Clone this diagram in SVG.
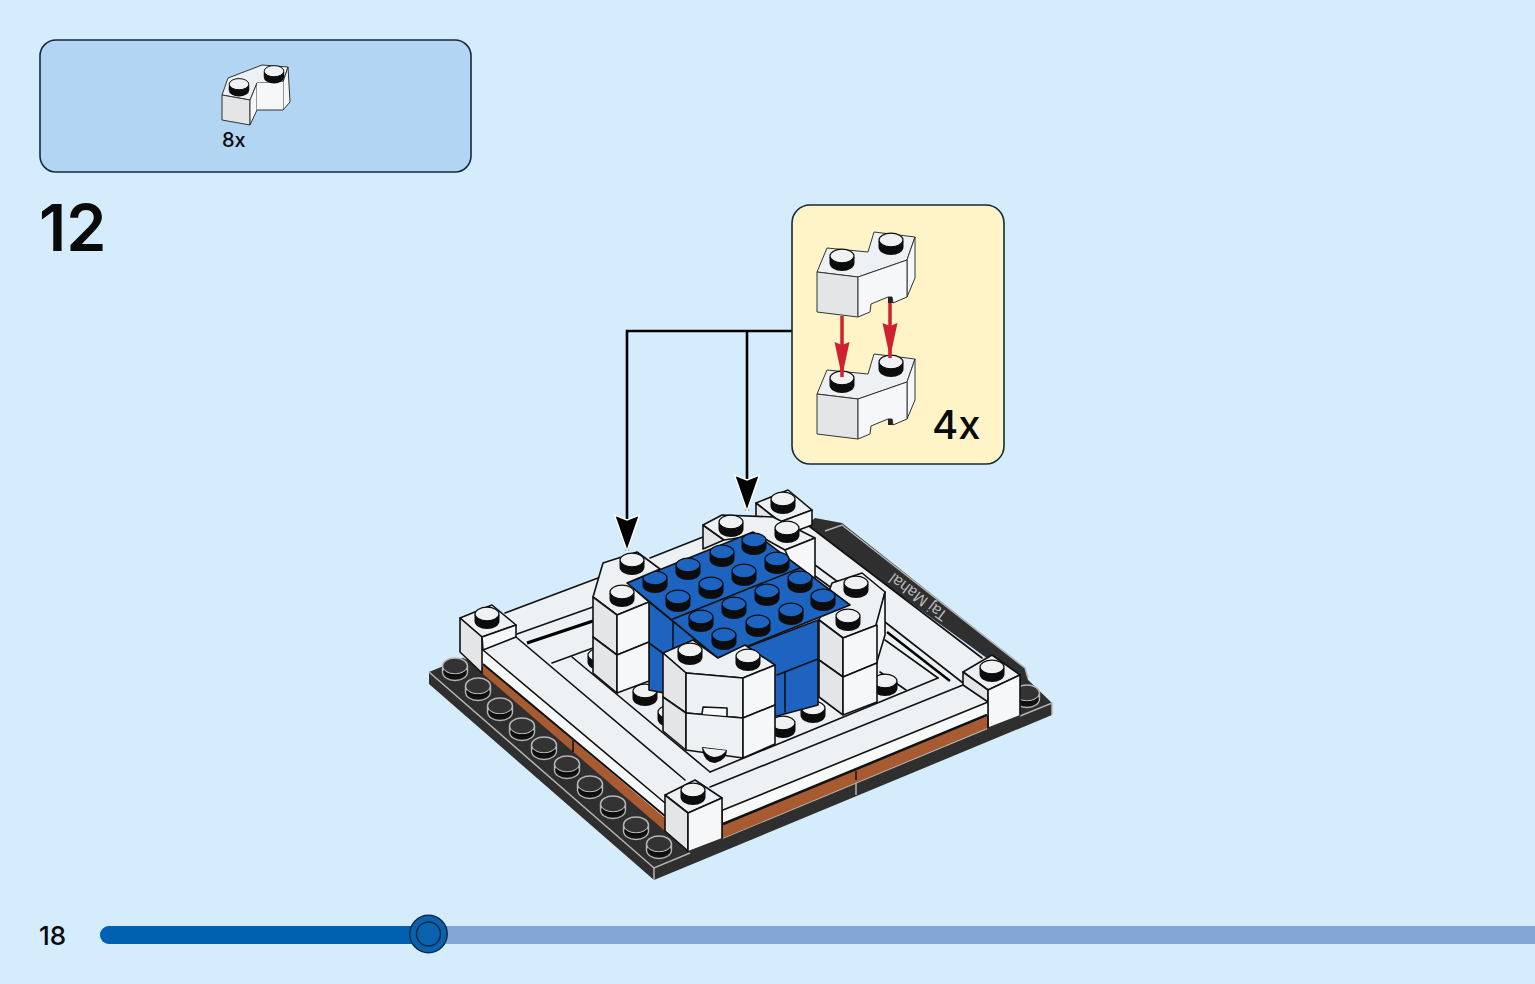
<svg xmlns="http://www.w3.org/2000/svg" width="1535" height="984" viewBox="0 0 1535 984">
<style>
.t{font-family:"Inter","Noto Sans","Liberation Sans",sans-serif;fill:#0a0a0a}
.ln{fill:none;stroke:#111;stroke-width:1.6;stroke-linecap:round;stroke-linejoin:round}
.gy{fill:none;stroke:#b5b5b5;stroke-width:1.5}
.f{stroke:#111;stroke-width:1.6;stroke-linejoin:round}
.thin{stroke:#333;stroke-width:1;stroke-linejoin:round}
.top{fill:#eef1f3}.lf{fill:#e3e5e7}.rt{fill:#f5f7f8}.wh{fill:#f8fafa}
.bl{fill:#1d63c0}.bd{fill:#1e63bf}
.br{fill:#a85a30}
</style>
<defs>
<g id="stud"><path d="M-12.5,0V6A12.5,8 0 0 0 12.5,6V0Z" fill="#0c0c0c"/><ellipse cy="-1" rx="12" ry="6.800" fill="#eff1f2" stroke="#0c0c0c" stroke-width="1.200"/></g>
<g id="bstud"><path d="M-12.5,0V6A12.5,8 0 0 0 12.5,6V0Z" fill="#0c0c0c"/><ellipse cy="-1" rx="12" ry="6.800" fill="#1d63c0" stroke="#0c0c0c" stroke-width="1.200"/></g>
<g id="dstud"><path d="M-12.5,-2V3A12.5,8.5 0 0 0 12.5,3V-2Z" fill="#111" stroke="#b5b5b5" stroke-width="1.400"/><ellipse cy="-3" rx="12.500" ry="8" fill="#333" stroke="#b5b5b5" stroke-width="1.400"/><path d="M-11,1A12,7 0 0 0 11,1L11,3A12,7 0 0 1 -11,3Z" fill="#0a0a0a"/></g>
<marker id="ah" markerUnits="userSpaceOnUse" markerWidth="42" markerHeight="32" viewBox="0 0 42 32" refX="37" refY="16" orient="auto"><path d="M37,16L1,3.500L6,16L1,28.500Z" fill="#000" stroke="#fff" stroke-width="1.400"/></marker>
<marker id="rh" markerUnits="userSpaceOnUse" markerWidth="38" markerHeight="20" viewBox="0 0 38 20" refX="36" refY="10" orient="auto"><path d="M36,10L1,2.500L4,10L1,17.500Z" fill="#cf2231"/></marker>
<g id="brick">
<polygon class="top thin" points="817,272 827,248 868,252 874,232 915,237 907,260 858,277"/>
<polygon class="rt thin" points="907,260 915,237 915,278 907,297"/>
<polygon class="lf thin" points="817,272 858,277 858,317 817,312"/>
<polygon class="rt thin" points="858,277 907,260 907,297 893,303 892,297 888,297 871,304 870,312 858,317"/>
<polygon points="888,297 892,297 893,303 888,303" fill="#222"/>
<use href="#stud" x="842" y="257"/><use href="#stud" x="891" y="241"/>
</g>
</defs>
<rect width="1535" height="984" fill="#d4ecfc"/>

<g id="parts-box">
<rect x="40" y="40" width="431" height="132" rx="16" fill="#b1d5f3" stroke="#16283a" stroke-width="1.600"/>
<g id="part-icon">
<polygon class="top thin" points="222,95 228,78 262,65 288,67 283,82 257,83 250,100"/>
<polygon class="rt thin" points="283,82 288,67 290,102 283,110"/>
<polygon class="lf thin" points="222,95 250,100 250,125 222,120"/>
<polygon class="rt thin" points="250,100 257,83 257,110 250,125"/>
<polygon class="rt" points="257,83 283,82 283,110 257,110"/>
<polyline class="thin" fill="none" points="257,110 283,110"/>
<use href="#stud" transform="translate(239,85) scale(.82)"/><use href="#stud" transform="translate(274,72) scale(.82)"/>
</g>
<text class="t" x="222" y="147" font-size="20" font-weight="500">8x</text>
</g>
<text id="step-number" class="t" x="39" y="251" font-size="64.500" font-weight="600">12</text>

<g id="model">
<g id="baseplate">
<polygon points="842,523 1025,668 1028,680 1010,675 805,526 815,518" fill="#2f2f2f"/>
<polyline points="825,531 842,525 1025,668 1028,678" class="gy" stroke-width="1.300"/>
<text transform="rotate(217 921.5 593)" x="921.5" y="593" text-anchor="middle" font-family="Liberation Sans,sans-serif" font-size="16" fill="#b8b8b8">Taj Mahal</text>
<polygon points="429,672 463,658 700,760 1025,677 1052,703 1052,715 654,880 429,684" fill="#2f2f2f"/>
<polyline points="429,672 654,868 690,853" class="gy"/>
<line x1="654" y1="868" x2="654" y2="880" class="gy"/>
<polyline points="1020,716 1052,703 1052,715" class="gy"/>
<line x1="856" y1="775" x2="856" y2="795" class="gy"/>
<line x1="723" y1="838" x2="987" y2="728.500" class="gy" stroke-width="1.200"/>
<use href="#dstud" x="455" y="669"/><use href="#dstud" x="478" y="689"/><use href="#dstud" x="500" y="709"/><use href="#dstud" x="522" y="729"/><use href="#dstud" x="544" y="748"/><use href="#dstud" x="567" y="767"/><use href="#dstud" x="590" y="787"/><use href="#dstud" x="613" y="807"/><use href="#dstud" x="636" y="828"/><use href="#dstud" x="659" y="847"/><use href="#dstud" x="1027" y="696"/>
<polygon class="br" points="483,664 665,816 665,831 483,674"/>
<polygon class="br" points="723,825 987,716 987,728 723,838"/>
<line x1="856" y1="771" x2="856" y2="780" stroke="#111" stroke-width="1.500"/>
<line x1="573" y1="740" x2="573" y2="752" stroke="#111" stroke-width="1.500"/>
</g>

<g id="frame">
<polygon points="483,650 505,613 703,537 805,523 982,658 988,702 723,810 665,803" class="top"/>
<polygon points="483,650 665,803 665,818 483,664" class="wh"/>
<polygon points="723,810 988,702 988,716 723,824" class="wh"/>
<line x1="483" y1="664" x2="665" y2="816" stroke="#111" stroke-width="2"/>
<line x1="723" y1="824" x2="987" y2="715" stroke="#111" stroke-width="2.500"/>
<g class="ln">
<line x1="505" y1="613" x2="598" y2="578"/>
<line x1="650" y1="558" x2="703" y2="537"/>
<line x1="517" y1="634" x2="593" y2="607"/>
<line x1="552" y1="663" x2="593" y2="648"/>
<line x1="483" y1="650" x2="665" y2="803"/>
<line x1="516" y1="637" x2="685" y2="780"/>
<line x1="572" y1="657" x2="710" y2="772"/>
<line x1="710" y1="772" x2="938" y2="678"/>
<line x1="938" y1="678" x2="885" y2="640"/>
<line x1="906" y1="690" x2="880" y2="672"/>
<line x1="710" y1="787" x2="963" y2="685"/>
<line x1="723" y1="810" x2="988" y2="702"/>
<line x1="805" y1="523" x2="982" y2="658"/>
<line x1="815" y1="565" x2="838" y2="582"/>
<line x1="815" y1="576" x2="833" y2="589"/>
<line x1="885" y1="622" x2="963" y2="683"/>
</g>
<line x1="527" y1="643" x2="593" y2="621" stroke="#000" stroke-width="3"/>
<line x1="887" y1="632" x2="950" y2="681" stroke="#000" stroke-width="2.500"/>
<use href="#stud" x="600" y="656"/><use href="#stud" x="885" y="682"/><use href="#stud" x="670" y="713"/>
<use href="#stud" x="645" y="692"/><use href="#stud" x="783" y="724"/><use href="#stud" x="813" y="709"/>
</g>

<g id="post-top"><polygon class="top f" points="756,503 788,490 812,510 780,522"/><polygon class="lf f" points="756,503 780,522 780,536 756,517"/><polygon class="rt f" points="780,522 812,510 812,525 780,537"/><use href="#stud" x="783" y="500"/></g>
<g id="tower-top">
<polygon class="lf f" points="703,525 724,540 703,549"/>
<polygon class="top f" points="703,525 722,515 773,517 815,538 785,550 758,535 724,540"/>
<polygon class="rt f" points="785,550 815,538 815,590 800,585"/>
<use href="#stud" x="731" y="523"/><use href="#stud" x="787" y="529"/>
</g>
<g id="blue-sides">
<polygon class="bd f" points="649,602 718,658 818,620 818,705 777,716 649,690"/>
<g class="ln"><line x1="673" y1="620" x2="673" y2="650"/><line x1="777" y1="675" x2="818" y2="659"/><line x1="785" y1="672" x2="785" y2="712"/><line x1="649" y1="643" x2="664" y2="654"/></g>
</g>
<g id="tower-right">
<polygon class="top f" points="819,620 832,583 862,573 885,592 877,625 843,638"/>
<polygon class="rt f" points="885,592 885,635 876,665 876,625"/>
<polygon class="lf f" points="819,620 843,638 843,677 819,660"/>
<polygon class="rt f" points="843,638 877,625 877,663 843,677"/>
<polygon class="lf f" points="819,660 843,677 843,715 819,697"/>
<polygon class="rt f" points="843,677 877,663 877,702 843,715"/>
<use href="#stud" x="856" y="584"/><use href="#stud" x="848" y="617"/>
</g>
<g id="blue-plate">
<polygon class="bl f" points="627,583 753,532 850,605 718,658"/>
<line class="ln" x1="673" y1="619" x2="800" y2="568"/>
<use href="#bstud" x="655" y="579"/><use href="#bstud" x="688" y="566"/><use href="#bstud" x="722" y="553"/><use href="#bstud" x="754" y="541"/><use href="#bstud" x="678" y="598"/><use href="#bstud" x="711" y="585"/><use href="#bstud" x="744" y="572"/><use href="#bstud" x="777" y="560"/><use href="#bstud" x="701" y="618"/><use href="#bstud" x="734" y="605"/><use href="#bstud" x="767" y="592"/><use href="#bstud" x="800" y="579"/><use href="#bstud" x="724" y="636"/><use href="#bstud" x="758" y="623"/><use href="#bstud" x="791" y="611"/><use href="#bstud" x="823" y="597"/>
</g>
<g id="tower-left">
<polygon class="top f" points="593,597 603,563 637,552 660,569 627,583 649,602 617,615"/>
<polygon class="lf f" points="593,597 617,615 617,655 593,637"/>
<polygon class="rt f" points="617,615 649,602 649,642 617,655"/>
<polygon class="lf f" points="593,637 617,655 617,693 593,673"/>
<polygon class="rt f" points="617,655 649,642 649,681 617,693"/>
<use href="#stud" x="632" y="561"/><use href="#stud" x="622" y="593"/>
</g>
<g id="tower-bottom">
<polygon class="top f" points="663,653 693,640 718,658 745,645 775,665 743,678 686,673"/>
<polygon class="lf f" points="663,653 686,673 686,713 663,697"/>
<polygon class="top f" points="686,673 743,678 743,718 686,713"/>
<polygon class="rt f" points="743,678 775,665 775,705 743,718"/>
<polygon class="lf f" points="663,697 686,713 686,750 663,731"/>
<polygon class="top f" points="686,713 743,718 743,758 686,750"/>
<polygon class="rt f" points="743,718 775,705 775,744 743,758"/>
<polyline class="f wh" points="702,714 703,707 727,708 727,716"/>
<path d="M702,747L727,750Q727,760 715,763Q703,762 702,747Z" fill="#0c0c0c"/>
<path d="M703,748L726,750.500Q722,757 714,757Q706,756 703,748Z" fill="#eff1f2"/>
<use href="#stud" x="690" y="651"/><use href="#stud" x="748" y="657"/>
</g>
<g id="post-left"><polygon class="top f" points="460,618 492,605 516,625 482,637"/><polygon class="lf f" points="460,618 482,637 482,673 460,652"/><polygon class="rt f" points="482,637 516,625 516,637 483,650"/><use href="#stud" x="487" y="615"/></g>
<g id="post-right"><polygon class="top f" points="963,672 992,655 1020,675 988,690"/><polygon class="lf f" points="963,672 988,690 988,702 963,685"/><polygon class="rt" points="988,690 1020,675 1020,715 989,727"/><polyline class="ln" points="988,690 1020,675 1020,715"/><line class="ln" x1="988" y1="690" x2="988" y2="727"/><use href="#stud" x="992" y="668"/></g>
<g id="post-bottom"><polygon class="top f" points="665,795 695,780 722,798 688,813"/><polygon class="lf f" points="665,795 688,813 688,851 665,831"/><polygon class="rt" points="688,813 722,798 722,838 688,851"/><polyline class="ln" points="688,851 688,813 722,798 722,838"/><use href="#stud" x="693" y="791"/></g>
</g>

<g id="connectors" fill="none" stroke="#000" stroke-width="2.600">
<polyline points="792,331 627,331 627,551" marker-end="url(#ah)"/>
<line x1="747" y1="331" x2="747" y2="511" marker-end="url(#ah)"/>
</g>

<g id="callout">
<rect x="792" y="205" width="212" height="259" rx="18" fill="#fef4c8" stroke="#16283a" stroke-width="1.600"/>
<use href="#brick"/>
<use href="#brick" y="122"/>
<g fill="none" stroke="#cf2231" stroke-width="3.500">
<line x1="842" y1="316" x2="842" y2="377" marker-end="url(#rh)"/>
<line x1="890" y1="303" x2="890" y2="358" marker-end="url(#rh)"/>
</g>
<text class="t" x="932" y="439" font-size="40" font-weight="500">4x</text>
</g>

<g id="progress">
<text class="t" x="39" y="945" font-size="26" font-weight="500">18</text>
<rect x="100" y="926" width="1460" height="18" rx="9" fill="#84a6d6"/>
<rect x="100" y="926" width="330" height="18" rx="9" fill="#0061b0"/>
<circle cx="428.500" cy="934" r="18.700" fill="#0a62ad" stroke="#0f2a4a" stroke-width="1.500"/>
<circle cx="428.500" cy="934" r="12" fill="none" stroke="#0f2a4a" stroke-width="1.500"/>
</g>
</svg>
